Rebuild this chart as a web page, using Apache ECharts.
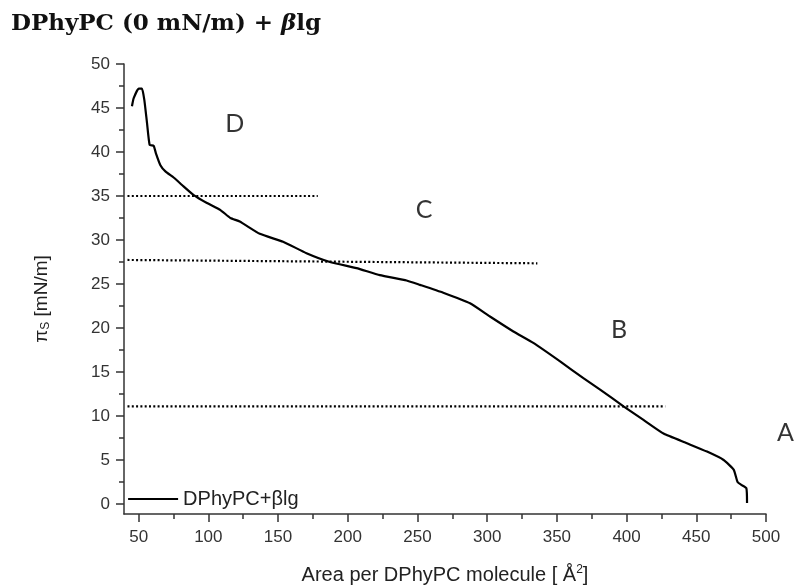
<!DOCTYPE html>
<html>
<head>
<meta charset="utf-8">
<script src="https://cdn.jsdelivr.net/npm/echarts@6/dist/echarts.min.js"></script>
<style>html,body{margin:0;padding:0;background:#fff}#c{width:795px;height:587px}</style>
</head>
<body>
<div id="c"></div>
<script>
// Surface pressure isotherm (area per molecule vs pi_S)
const xArea = [45.2, 46.4, 50, 52.4, 54.1, 56, 57.9, 60.8, 62.4, 65.6, 69.2, 75.1, 81.1, 89.5, 99, 108.7, 115.8, 122.5, 136.9, 153.6, 170.4, 187.2, 206.3, 223, 242.2, 251.8, 268.5, 287.7, 302, 318.8, 333.1, 352.3, 369, 381, 397.8, 412.1, 426.5, 443.3, 457.7, 469.6, 476.8, 479.6, 482, 485.9, 486.4];
const yPressure = [45.2, 46.1, 47.2, 47.2, 45.9, 43.3, 40.8, 40.7, 39.85, 38.5, 37.8, 37.1, 36.25, 35.1, 34.2, 33.4, 32.5, 32.1, 30.7, 29.8, 28.5, 27.5, 26.8, 26.0, 25.4, 24.9, 24.0, 22.8, 21.3, 19.6, 18.3, 16.2, 14.3, 13.0, 11.1, 9.55, 8.0, 6.9, 5.95, 5.0, 3.9, 2.5, 2.2, 1.8, 0.1];

// phase boundary dotted lines: [x, y] start and end
const boundary1 = [[42, 35.0], [178.5, 35.0]];
const boundary2 = [[42, 27.73], [336, 27.35]];
const boundary3 = [[42, 11.1], [427.7, 11.1]];

// phase labels
const phaseNames = ['D', 'C', 'B', 'A'];
const phaseX = [118.9, 254.7, 394.7, 513.9];
const phaseY = [43.2, 33.4, 19.8, 8.07];

const xTicks = [50, 100, 150, 200, 250, 300, 350, 400, 450, 500];
const xMinorTicks = [75, 125, 175, 225, 275, 325, 375, 425, 475];
const yTicks = [0, 5, 10, 15, 20, 25, 30, 35, 40, 45, 50];
const yMinorTicks = [2.5, 7.5, 12.5, 17.5, 22.5, 27.5, 32.5, 37.5, 42.5, 47.5];

const seriesName = 'DPhyPC+βlg';
const titleText = 'DPhyPC (0 mN/m) + {b|β}lg';

const X_MIN = 39.5, X_MAX = 500, Y_MIN = -1.14, Y_MAX = 50;
const axisColor = '#333';
const labelColor = '#333';

const chart = echarts.init(document.getElementById('c'), null, {renderer: 'canvas'});

const mainX = {
  type: 'value', min: X_MIN, max: X_MAX, position: 'bottom',
  axisLine: {show: true, onZero: false, lineStyle: {color: axisColor, width: 1.5}},
  axisTick: {show: true, customValues: xTicks, length: 8, lineStyle: {color: axisColor, width: 1.5}},
  axisLabel: {show: true, customValues: xTicks, margin: 15, fontSize: 17, color: labelColor, fontFamily: 'Liberation Sans, Arial, sans-serif'},
  splitLine: {show: false},
  name: 'Area per DPhyPC molecule [ Å{sup|2}]',
  nameLocation: 'middle', nameGap: 50,
  nameTextStyle: {fontSize: 20, color: '#222', fontFamily: 'Liberation Sans, Arial, sans-serif',
    rich: {sup: {fontSize: 12, color: '#222', verticalAlign: 'top', padding: [0, 0, 10, 0]}}}
};
const minorX = {
  type: 'value', min: X_MIN, max: X_MAX, position: 'bottom',
  axisLine: {show: false, onZero: false},
  axisTick: {show: true, customValues: xMinorTicks, length: 5, lineStyle: {color: axisColor, width: 1.5}},
  axisLabel: {show: false}, splitLine: {show: false}
};
const mainY = {
  type: 'value', min: Y_MIN, max: Y_MAX, position: 'left',
  axisLine: {show: true, onZero: false, lineStyle: {color: axisColor, width: 1.5}},
  axisTick: {show: true, customValues: yTicks, length: 8, lineStyle: {color: axisColor, width: 1.5}},
  axisLabel: {show: true, customValues: yTicks, margin: 14, fontSize: 17, color: labelColor, fontFamily: 'Liberation Sans, Arial, sans-serif'},
  splitLine: {show: false},
  name: '{p|π}{s|S} [mN/m]',
  nameLocation: 'middle', nameRotate: 90, nameGap: 72,
  nameTextStyle: {fontSize: 19, color: '#222', fontFamily: 'Liberation Sans, Arial, sans-serif', padding: [0, 20, 0, 0],
    rich: {p: {fontSize: 19, color: '#222'}, s: {fontSize: 12, color: '#222', padding: [9, 0, 0, 0]}}}
};
const minorY = {
  type: 'value', min: Y_MIN, max: Y_MAX, position: 'left',
  axisLine: {show: false, onZero: false},
  axisTick: {show: true, customValues: yMinorTicks, length: 5, lineStyle: {color: axisColor, width: 1.5}},
  axisLabel: {show: false}, splitLine: {show: false}
};

const dotted = (data) => ({
  type: 'line', data: data, xAxisIndex: 0, yAxisIndex: 0, symbol: 'none', silent: true,
  lineStyle: {color: '#000', width: 2.2, type: [2, 2.3]}, z: 1, legendHoverLink: false
});

chart.setOption({
  animation: false,
  backgroundColor: '#fff',
  title: {
    text: titleText, left: 6, top: 8,
    textStyle: {fontFamily: 'DejaVu Serif', fontWeight: 'bold', fontSize: 23, color: '#111',
      rich: {b: {fontFamily: 'DejaVu Serif', fontStyle: 'italic', fontWeight: 'bold', fontSize: 23, color: '#111'}}}
  },
  legend: {
    data: [seriesName], left: 122, top: 484, itemWidth: 50, itemHeight: 14, itemGap: 5,
    itemStyle: {opacity: 0},
    lineStyle: {color: '#000', width: 2.2},
    textStyle: {fontSize: 20, color: '#222', fontFamily: 'Liberation Sans, Arial, sans-serif'}
  },
  grid: {left: 124, right: 29, top: 64, bottom: 73, containLabel: false, outerBoundsMode: 'none'},
  xAxis: [mainX, minorX],
  yAxis: [mainY, minorY],
  series: [
    {
      name: seriesName, type: 'line', xAxisIndex: 0, yAxisIndex: 0,
      data: xArea.map((x, i) => [x, yPressure[i]]),
      symbol: 'none', showSymbol: false, smooth: 0.15,
      lineStyle: {color: '#000', width: 2.2}, itemStyle: {color: '#000'}, z: 3
    },
    dotted(boundary1), dotted(boundary2), dotted(boundary3),
    {
      type: 'scatter', xAxisIndex: 0, yAxisIndex: 0, clip: false, silent: true,
      data: phaseX.map((x, i) => ({value: [x, phaseY[i]], name: phaseNames[i]})),
      symbolSize: 1, itemStyle: {color: 'rgba(0,0,0,0)'},
      label: {show: true, position: 'inside', formatter: (p) => p.name, fontSize: 25, color: '#000', fontFamily: 'Lato, Open Sans, sans-serif'}
    }
  ]
});
</script>
</body>
</html>
